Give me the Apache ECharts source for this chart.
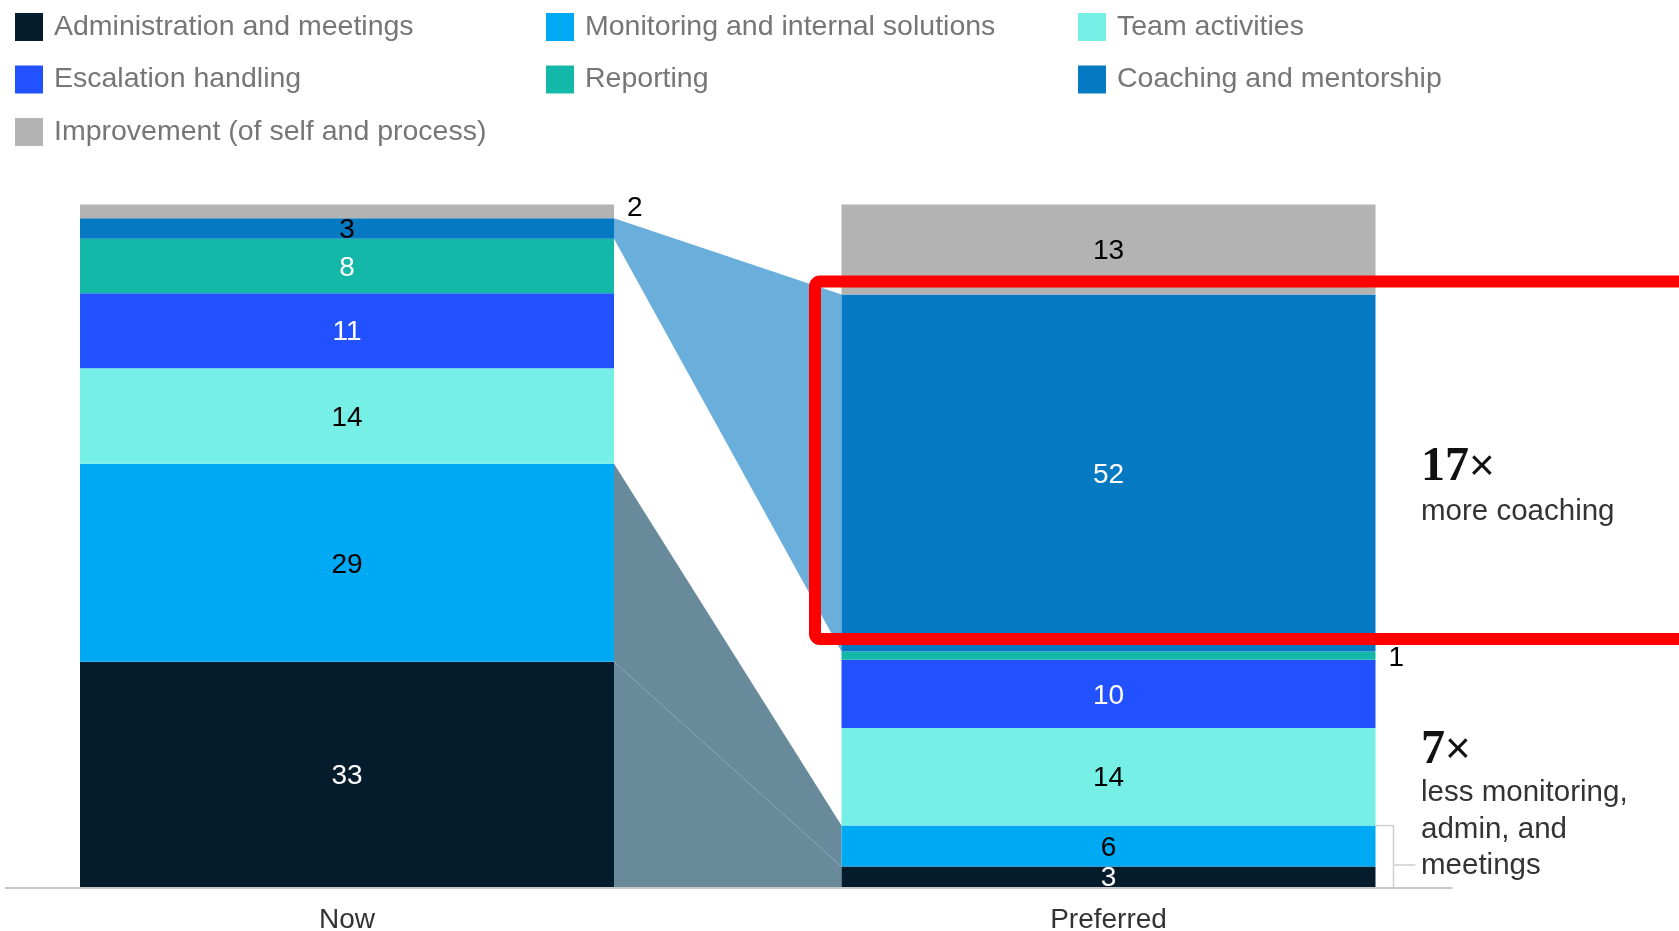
<!DOCTYPE html>
<html>
<head>
<meta charset="utf-8">
<script src="https://cdn.jsdelivr.net/npm/echarts@6/dist/echarts.min.js"></script>
<style>
  html, body { margin: 0; padding: 0; background: #fff; }
  #chart { width: 1679px; height: 931px; }
</style>
</head>
<body>
<div id="chart"></div>
<script>
// ---- data ----
const categories = ['Now', 'Preferred'];
const seriesNames = [
  'Administration and meetings',
  'Monitoring and internal solutions',
  'Team activities',
  'Escalation handling',
  'Reporting',
  'Coaching and mentorship',
  'Improvement (of self and process)'
];
const nowValues = [33, 29, 14, 11, 8, 3, 2];
const preferredValues = [3.0, 6.0, 14.3, 10.0, 1.2, 52.3, 13.2];
const annotationMore = ['17', 'more coaching'];
const annotationLess = ['7', 'less monitoring,', 'admin, and', 'meetings'];

// ---- styles ----
const colors = ['#051C2C', '#00A9F4', '#76F0E6', '#2251FF', '#14B8A8', '#0679C3', '#B3B3B3'];
const nowLabelColors = ['#fff', '#000', '#000', '#fff', '#fff', '#000', '#000'];
const prefLabelColors = ['#fff', '#000', '#000', '#fff', '#000', '#fff', '#000'];
const FONT = '"Liberation Sans", Arial, sans-serif';
const BAR_W = 534;

function cum(arr, n) { let s = 0; for (let i = 0; i < n; i++) s += arr[i]; return s; }

const connectors = [
  { from: [cum(nowValues, 5), cum(nowValues, 6)], to: [cum(preferredValues, 5), cum(preferredValues, 6)], color: '#6AAEDB' },
  { from: [0, cum(nowValues, 2)], to: [0, cum(preferredValues, 2)], color: '#698A9B',
    line: [cum(nowValues, 1), cum(preferredValues, 1)] }
];

const barSeries = seriesNames.map((name, i) => ({
  name: name,
  type: 'bar',
  stack: 'total',
  barWidth: BAR_W,
  itemStyle: { color: colors[i] },
  z: 3,
  data: [nowValues[i], preferredValues[i]].map((v, c) => {
    const small = v < 2.5;
    return {
      value: v,
      label: {
        show: true,
        position: small ? 'right' : 'inside',
        distance: 13,
        offset: small ? (c === 0 ? [0, -3] : [0, 3]) : [0, 2],
        color: small ? '#000' : (c === 0 ? nowLabelColors[i] : prefLabelColors[i]),
        fontSize: 28,
        fontFamily: FONT,
        formatter: p => String(Math.round(p.value))
      }
    };
  })
}));

const connectorSeries = {
  type: 'custom',
  name: 'connectors',
  z: 1,
  silent: true,
  data: connectors.map((c, i) => [i, 0]),
  renderItem: function (params, api) {
    const d = connectors[params.dataIndex];
    const x0 = api.coord([0, 0])[0] + BAR_W / 2;
    const x1 = api.coord([1, 0])[0] - BAR_W / 2;
    const y = v => api.coord([0, v])[1];
    const children = [{
      type: 'polygon',
      shape: { points: [[x0, y(d.from[1])], [x1, y(d.to[1])], [x1, y(d.to[0])], [x0, y(d.from[0])]] },
      style: { fill: d.color }
    }];
    if (d.line) {
      children.push({
        type: 'line',
        shape: { x1: x0, y1: y(d.line[0]), x2: x1, y2: y(d.line[1]) },
        style: { stroke: '#8FA9B8', lineWidth: 1 }
      });
    }
    return { type: 'group', children: children };
  }
};

const decorSeries = {
  type: 'custom',
  name: 'decor',
  z: 5,
  silent: true,
  data: [[0, 0]],
  renderItem: function (params, api) {
    const base = api.coord([0, 0])[1];
    const prefRight = api.coord([1, 0])[0] + BAR_W / 2;
    const top = api.coord([1, cum(preferredValues, 2)])[1];
    const bx = prefRight + 18;
    const ls = { stroke: '#CFCFCF', lineWidth: 1.5 };
    return {
      type: 'group',
      children: [
        { type: 'line', shape: { x1: 5, y1: base + 1, x2: prefRight + 77, y2: base + 1 }, style: { stroke: '#C8C8C8', lineWidth: 2 } },
        { type: 'line', shape: { x1: prefRight, y1: top, x2: bx, y2: top }, style: ls },
        { type: 'line', shape: { x1: bx, y1: top, x2: bx, y2: base }, style: ls },
        { type: 'line', shape: { x1: bx, y1: base - 22, x2: bx + 22, y2: base - 22 }, style: ls }
      ]
    };
  }
};

function legendCol(left, idxs) {
  return {
    left: left,
    top: 12.5,
    padding: 0,
    orient: 'vertical',
    icon: 'rect',
    itemWidth: 28,
    itemHeight: 28,
    itemGap: 23.5,
    selectedMode: false,
    data: idxs.map(i => seriesNames[i]),
    textStyle: { fontSize: 28.5, lineHeight: 28, color: '#767676', fontFamily: FONT, padding: [0, 0, 0, 6] }
  };
}

const chart = echarts.init(document.getElementById('chart'), null, { renderer: 'canvas' });
chart.setOption({
  animation: false,
  backgroundColor: '#fff',
  legend: [legendCol(15, [0, 3, 6]), legendCol(546, [1, 4]), legendCol(1078, [2, 5])],
  grid: { left: -33.75, right: 189.75, top: 204.5, bottom: 44, containLabel: false, outerBoundsMode: 'none' },
  xAxis: {
    type: 'category',
    data: categories,
    axisLine: { show: false },
    axisTick: { show: false },
    axisLabel: { fontSize: 28, color: '#333', fontFamily: FONT, margin: 19 }
  },
  yAxis: { type: 'value', min: 0, max: 100, show: false, splitLine: { show: false } },
  series: [connectorSeries].concat(barSeries).concat([decorSeries]),
  graphic: [
    {
      type: 'text', left: 1421, top: 444, z: 10,
      style: {
        text: '{n|' + annotationMore[0] + '}{x|×}',
        rich: {
          n: { fontSize: 48, fontWeight: 'bold', fontFamily: '"Liberation Serif", serif', fill: '#111' },
          x: { fontSize: 44, fontFamily: FONT, fill: '#111' }
        }
      }
    },
    { type: 'text', left: 1421, top: 497, z: 10,
      style: { text: annotationMore[1], fontSize: 29.5, fontFamily: FONT, fill: '#333' } },
    {
      type: 'text', left: 1421, top: 727, z: 10,
      style: {
        text: '{n|' + annotationLess[0] + '}{x|×}',
        rich: {
          n: { fontSize: 48, fontWeight: 'bold', fontFamily: '"Liberation Serif", serif', fill: '#111' },
          x: { fontSize: 44, fontFamily: FONT, fill: '#111' }
        }
      }
    },
    { type: 'text', left: 1421, top: 775, z: 10,
      style: { text: annotationLess.slice(1).join('\n'), fontSize: 29.5, lineHeight: 36.5, fontFamily: FONT, fill: '#333' } },
    {
      type: 'rect', z: 20, silent: true,
      shape: { x: 815, y: 281.5, width: 1000, height: 357.5, r: 5 },
      style: { fill: 'none', stroke: '#FF0000', lineWidth: 12 }
    }
  ]
});
</script>
</body>
</html>
